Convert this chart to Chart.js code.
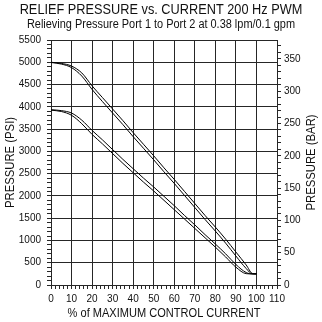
<!DOCTYPE html>
<html>
<head>
<meta charset="utf-8">
<script src="https://cdn.jsdelivr.net/npm/chart.js@4/dist/chart.umd.min.js"></script>
<style>
  html, body { margin: 0; padding: 0; background: #fff; }
  #wrap { width: 322px; height: 322px; }
</style>
</head>
<body>
<div id="wrap"><canvas id="chart" width="322" height="322"></canvas></div>
<script>
// % of maximum control current
const currentPct = [0, 5, 10, 15, 20, 25, 30, 35, 40, 45, 50, 55, 60, 65, 70, 75, 80, 85, 90, 95, 98, 100];

// Upper relief setting (PSI), two traces of the hysteresis band
const upperA = [5000, 4975, 4915, 4760, 4470, 4210, 3950, 3690, 3420, 3160, 2900, 2630, 2370, 2100, 1830, 1560, 1300, 1030, 740, 450, 260, 250];
const upperB = [4995, 4960, 4880, 4690, 4390, 4120, 3860, 3600, 3330, 3070, 2810, 2540, 2280, 2010, 1740, 1470, 1210, 940, 650, 370, 250, 250];

// Lower relief setting (PSI)
const lowerA = [3935, 3915, 3860, 3700, 3470, 3260, 3040, 2820, 2610, 2400, 2200, 1990, 1780, 1560, 1350, 1130, 920, 700, 460, 280, 250, 250];
const lowerB = [3925, 3895, 3810, 3620, 3380, 3170, 2950, 2730, 2520, 2310, 2110, 1900, 1690, 1480, 1270, 1060, 850, 630, 400, 255, 250, 250];

// Axis ranges and label steps
const xRange = [0, 110];
const psiRange = [0, 5500];
const PSI_PER_BAR = 14.5038;
const xLabelStep = 10;
const psiLabelStep = 500;
const barLabelStep = 50;

const INK = '#262626';
const FONT = '"Liberation Sans", Arial, Helvetica, sans-serif';

function toPoints(ys) {
  return currentPct.map((x, i) => ({ x: x, y: ys[i] }));
}

function curve(ys) {
  return {
    data: toPoints(ys),
    borderColor: '#000',
    borderWidth: 1,
    pointRadius: 0,
    fill: false,
    cubicInterpolationMode: 'monotone',
    yAxisID: 'y'
  };
}

const isMultiple = (v, step) => Math.abs(v / step - Math.round(v / step)) < 1e-6;

// Condensed caption text: regular face squeezed horizontally
function caption(ctx, text, x, y, size, squeeze, angle) {
  ctx.save();
  ctx.translate(x, y);
  ctx.rotate(angle || 0);
  ctx.scale(squeeze, 1);
  ctx.font = size + 'px ' + FONT;
  ctx.fillStyle = '#111';
  ctx.textAlign = 'center';
  ctx.textBaseline = 'middle';
  ctx.fillText(text, 0, 0);
  ctx.restore();
}

const captions = {
  id: 'captions',
  afterDraw(chart) {
    const ctx = chart.ctx;
    const a = chart.chartArea;
    const midX = (a.left + a.right) / 2;
    const midY = (a.top + a.bottom) / 2;
    caption(ctx, 'RELIEF PRESSURE vs. CURRENT 200 Hz PWM', 161, 10, 15, 0.85);
    caption(ctx, 'Relieving Pressure Port 1 to Port 2 at 0.38 lpm/0.1 gpm', 161, 25, 12.5, 0.875);
    caption(ctx, '% of MAXIMUM CONTROL CURRENT', midX, 313, 13, 0.85);
    caption(ctx, 'PRESSURE (PSI)', 10, midY, 13, 0.87, -Math.PI / 2);
    caption(ctx, 'PRESSURE (BAR)', 311, midY, 13, 0.87, -Math.PI / 2);
  }
};

new Chart(document.getElementById('chart'), {
  type: 'line',
  data: {
    datasets: [curve(upperA), curve(upperB), curve(lowerA), curve(lowerB)]
  },
  options: {
    responsive: false,
    animation: false,
    devicePixelRatio: 1,
    layout: { padding: { top: 40, left: 0, right: 0, bottom: 0 } },
    plugins: {
      legend: { display: false },
      tooltip: { enabled: false }
    },
    scales: {
      x: {
        type: 'linear',
        min: xRange[0],
        max: xRange[1],
        afterFit: (s) => { s.height = 37; },
        border: { display: true, color: INK, width: 1 },
        grid: {
          color: (c) => (c.tick && isMultiple(c.tick.value, xLabelStep)) ? INK : 'rgba(0,0,0,0)',
          tickColor: INK,
          tickLength: 4,
          lineWidth: 1
        },
        ticks: {
          stepSize: 2,
          autoSkip: false,
          maxRotation: 0,
          padding: 4,
          color: '#111',
          font: { family: FONT, size: 10 },
          callback: (v) => isMultiple(v, xLabelStep) ? String(Math.round(v)) : ''
        }
      },
      y: {
        type: 'linear',
        position: 'left',
        min: psiRange[0],
        max: psiRange[1],
        afterFit: (s) => { s.width = 51; },
        border: { display: true, color: INK, width: 1 },
        grid: {
          color: (c) => (c.tick && isMultiple(c.tick.value, psiLabelStep)) ? INK : 'rgba(0,0,0,0)',
          tickColor: INK,
          tickLength: 4,
          lineWidth: 1
        },
        ticks: {
          stepSize: 100,
          autoSkip: false,
          padding: 6,
          color: '#111',
          font: { family: FONT, size: 10 },
          callback: (v) => isMultiple(v, psiLabelStep) ? String(Math.round(v)) : ''
        }
      },
      y2: {
        type: 'linear',
        position: 'right',
        min: psiRange[0] / PSI_PER_BAR,
        max: psiRange[1] / PSI_PER_BAR,
        afterFit: (s) => { s.width = 45; },
        border: { display: true, color: INK, width: 1 },
        grid: {
          drawOnChartArea: false,
          color: INK,
          tickColor: INK,
          tickLength: 4,
          lineWidth: 1
        },
        ticks: {
          stepSize: 10,
          includeBounds: false,
          autoSkip: false,
          padding: 3,
          color: '#111',
          font: { family: FONT, size: 10 },
          callback: (v) => isMultiple(v, barLabelStep) ? String(Math.round(v)) : ''
        }
      }
    }
  },
  plugins: [captions]
});
</script>
</body>
</html>
